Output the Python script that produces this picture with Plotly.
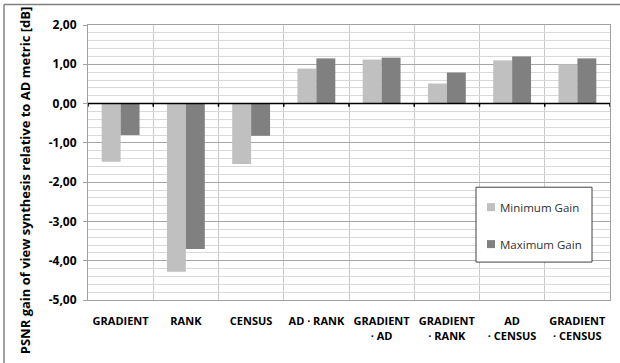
import plotly.graph_objects as go

categories = ["GRADIENT", "RANK", "CENSUS", "AD · RANK", "GRADIENT<br>· AD",
              "GRADIENT<br>· RANK", "AD<br>· CENSUS", "GRADIENT<br>· CENSUS"]
minimum_gain = [-1.48, -4.28, -1.54, 0.89, 1.12, 0.51, 1.10, 1.00]
maximum_gain = [-0.80, -3.70, -0.82, 1.15, 1.17, 0.79, 1.20, 1.15]
y_ticks = [-5, -4, -3, -2, -1, 0, 1, 2]
series_names = ["Minimum Gain", "Maximum Gain"]
series_colors = ["#C0C0C0", "#808080"]

FONT = "Open Sans"
W, H = 620, 363
L, R, T, B = 88, 10, 24.5, 63
PW, PH = W - L - R, H - T - B


def px_x(p):
    return (p - L) / PW


def px_y(p):
    return (H - B - p) / PH


xpos = list(range(len(categories)))

fig = go.Figure()
for name, vals, col in zip(series_names, [minimum_gain, maximum_gain], series_colors):
    fig.add_trace(go.Bar(x=xpos, y=vals, name=name, showlegend=False,
                         marker=dict(color=col, line=dict(width=0))))

shapes = []
# zero line with small ticks at the category boundaries
shapes.append(dict(type="line", xref="x", yref="y", x0=-0.5, x1=len(categories) - 0.5,
                   y0=0, y1=0, line=dict(color="#000000", width=1.5), layer="above"))
for i in range(len(categories) + 1):
    b = i - 0.5
    shapes.append(dict(type="line", xref="x", yref="y", x0=b, x1=b, y0=0, y1=-0.08,
                       line=dict(color="#000000", width=1.5), layer="above"))
# outer frame of the chart
shapes.append(dict(type="line", xref="paper", yref="paper", x0=px_x(4), x1=px_x(700),
                   y0=px_y(4), y1=px_y(4), line=dict(color="#808080", width=1.5)))
shapes.append(dict(type="line", xref="paper", yref="paper", x0=px_x(4), x1=px_x(4),
                   y0=px_y(4), y1=px_y(400), line=dict(color="#808080", width=1.5)))

# legend box with square swatches
shapes.append(dict(type="rect", xref="paper", yref="paper",
                   x0=px_x(476), x1=px_x(592), y0=px_y(187), y1=px_y(262),
                   fillcolor="white", line=dict(color="#404040", width=1), layer="above"))
annotations = []
for name, col, cy in zip(series_names, series_colors, [207, 244]):
    shapes.append(dict(type="rect", xref="paper", yref="paper",
                       x0=px_x(487), x1=px_x(495), y0=px_y(cy - 4), y1=px_y(cy + 4),
                       fillcolor=col, line=dict(width=0), layer="above"))
    annotations.append(dict(text=name, xref="paper", yref="paper", x=px_x(498), y=px_y(cy),
                            xanchor="left", yanchor="middle", showarrow=False,
                            font=dict(family=FONT, size=11.5, color="#303030")))

# rotated axis title
annotations.append(dict(text="<b>PSNR gain of view synthesis relative to AD metric [dB]</b>",
                        xref="paper", yref="paper", x=px_x(25), y=px_y(180),
                        xanchor="center", yanchor="middle", textangle=-90, showarrow=False,
                        font=dict(family=FONT, size=13, color="#000000")))

fig.update_layout(
    width=W, height=H,
    margin=dict(l=L, r=R, t=T, b=B),
    paper_bgcolor="white", plot_bgcolor="white",
    barmode="group", bargap=0.42, bargroupgap=0,
    font=dict(family=FONT, size=11, color="#000000"),
    shapes=shapes, annotations=annotations,
    showlegend=False,
    xaxis=dict(
        range=[-0.5, len(categories) - 0.5],
        tickmode="array", tickvals=xpos, ticktext=[f"<b>{c}</b>" for c in categories],
        ticks="", showgrid=False, zeroline=False, ticklabelstandoff=11,
        showline=True, linecolor="#A0A0A0", linewidth=1, mirror=True,
        tickfont=dict(family=FONT, size=11),
        minor=dict(tick0=-0.5, dtick=1, showgrid=True, gridcolor="#C8C8C8", gridwidth=1, ticks=""),
    ),
    yaxis=dict(
        range=[-5, 2], tickmode="array", tickvals=y_ticks,
        ticktext=[f"<b>{v:.2f}</b>".replace(".", ",") for v in y_ticks],
        showgrid=True, gridcolor="#A6A6A6", gridwidth=1, zeroline=False,
        showline=True, linecolor="#A0A0A0", linewidth=1, mirror=True,
        ticks="outside", ticklen=4, tickcolor="#A0A0A0", ticklabelstandoff=4,
        tickfont=dict(family=FONT, size=12),
        minor=dict(dtick=0.2, tick0=0, showgrid=True, gridcolor="#D9D9D9", gridwidth=1),
    ),
)

fig.write_html("out.html")
